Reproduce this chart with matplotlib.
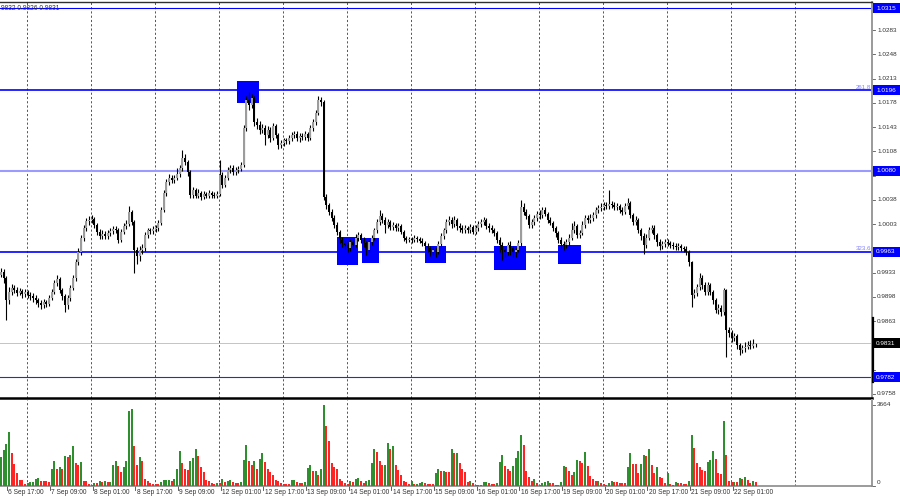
import matplotlib
matplotlib.use('Agg')
import matplotlib.pyplot as plt
from matplotlib.patches import Rectangle
from matplotlib.lines import Line2D
from matplotlib.transforms import blended_transform_factory

plt.rcParams['font.family'] = ['Liberation Sans', 'DejaVu Sans']

# ---------------- data (H1 bars) ----------------
first_open = 0.9930
closes = [
    0.9934, 0.9925, 0.9893, 0.9905, 0.9911, 0.9908, 0.9904, 0.9906, 0.9902, 0.9905,
    0.9901, 0.9899, 0.9896, 0.9893, 0.9889, 0.9886, 0.9891, 0.9888, 0.9896, 0.9905,
    0.9918, 0.9924, 0.9908, 0.9899, 0.9886, 0.9896, 0.9911, 0.9925, 0.9948, 0.9963,
    0.9983, 0.9997, 1.0007, 1.0009, 1.0010, 1.0002, 0.9992, 0.9986, 0.9989, 0.9986,
    0.9990, 0.9993, 0.9996, 0.9994, 0.9980, 0.9992, 1.0000, 1.0003, 1.0021, 1.0006,
    0.9966, 0.9957, 0.9966, 0.9968, 0.9987, 0.9994, 0.9993, 0.9996, 0.9997, 1.0005,
    1.0023, 1.0048, 1.0064, 1.0070, 1.0067, 1.0070, 1.0075, 1.0084, 1.0099, 1.0093,
    1.0078, 1.0045, 1.0052, 1.0044, 1.0048, 1.0042, 1.0047, 1.0044, 1.0048, 1.0045,
    1.0044, 1.0047, 1.0074, 1.0060, 1.0070, 1.0081, 1.0084, 1.0078, 1.0081, 1.0083,
    1.0088, 1.0142, 1.0182, 1.0175, 1.0185, 1.0150, 1.0146, 1.0139, 1.0142, 1.0132,
    1.0139, 1.0127, 1.0145, 1.0132, 1.0117, 1.0120, 1.0124, 1.0123, 1.0127, 1.0132,
    1.0133, 1.0127, 1.0130, 1.0129, 1.0133, 1.0127, 1.0142, 1.0150, 1.0163, 1.0182,
    1.0179, 1.0042, 1.0031, 1.0021, 1.0012, 1.0002, 0.9992, 0.9980, 0.9976, 0.9973,
    0.9968, 0.9977, 0.9973, 0.9983, 0.9987, 0.9980, 0.9976, 0.9966, 0.9977, 0.9983,
    0.9994, 1.0006, 1.0015, 1.0009, 1.0002, 1.0006, 0.9999, 1.0002, 0.9997, 1.0000,
    0.9992, 0.9983, 0.9980, 0.9981, 0.9980, 0.9983, 0.9981, 0.9979, 0.9976, 0.9971,
    0.9968, 0.9963, 0.9966, 0.9963, 0.9974, 0.9986, 0.9994, 1.0006, 1.0009, 1.0003,
    1.0009, 1.0000, 0.9997, 0.9994, 0.9997, 0.9994, 0.9999, 0.9992, 0.9997, 1.0003,
    1.0006, 1.0009, 1.0000, 0.9997, 0.9994, 0.9990, 0.9980, 0.9973, 0.9966, 0.9963,
    0.9973, 0.9968, 0.9963, 0.9966, 0.9976, 1.0028, 1.0021, 1.0015, 1.0002, 1.0006,
    1.0012, 1.0018, 1.0016, 1.0023, 1.0018, 1.0009, 1.0005, 0.9997, 0.9990, 0.9980,
    0.9974, 0.9973, 0.9977, 0.9983, 0.9994, 1.0000, 0.9987, 0.9990, 1.0002, 1.0012,
    1.0009, 1.0012, 1.0016, 1.0023, 1.0026, 1.0028, 1.0031, 1.0029, 1.0032, 1.0031,
    1.0028, 1.0029, 1.0023, 1.0021, 1.0029, 1.0034, 1.0016, 1.0006, 1.0009, 0.9994,
    0.9986, 0.9973, 0.9983, 0.9994, 0.9997, 0.9987, 0.9977, 0.9971, 0.9974, 0.9977,
    0.9976, 0.9973, 0.9971, 0.9970, 0.9971, 0.9968, 0.9967, 0.9963, 0.9948, 0.9901,
    0.9904, 0.9912, 0.9925, 0.9915, 0.9905, 0.9915, 0.9905, 0.9893, 0.9879, 0.9882,
    0.9876, 0.9908, 0.9850, 0.9846, 0.9839, 0.9841, 0.9828, 0.9821, 0.9824, 0.9826,
    0.9828, 0.9827, 0.9830, 0.9831]

highs = [
    0.9940, 0.9938, 0.9928, 0.9912, 0.9916, 0.9915, 0.9912, 0.9911, 0.9910, 0.9909,
    0.9908, 0.9905, 0.9903, 0.9900, 0.9897, 0.9893, 0.9895, 0.9894, 0.9900, 0.9910,
    0.9922, 0.9930, 0.9927, 0.9911, 0.9902, 0.9900, 0.9915, 0.9929, 0.9952, 0.9968,
    0.9987, 1.0002, 1.0012, 1.0014, 1.0016, 1.0013, 1.0005, 0.9996, 0.9994, 0.9993,
    0.9994, 0.9997, 1.0000, 1.0000, 0.9997, 0.9996, 1.0004, 1.0009, 1.0029, 1.0024,
    1.0009, 0.9970, 0.9971, 0.9974, 0.9991, 0.9998, 0.9998, 1.0000, 1.0001, 1.0009,
    1.0027, 1.0052, 1.0068, 1.0075, 1.0074, 1.0074, 1.0084, 1.0088, 1.0110, 1.0104,
    1.0096, 1.0081, 1.0057, 1.0055, 1.0053, 1.0051, 1.0051, 1.0050, 1.0052, 1.0051,
    1.0049, 1.0051, 1.0096, 1.0078, 1.0074, 1.0086, 1.0089, 1.0088, 1.0085, 1.0087,
    1.0092, 1.0146, 1.0188, 1.0194, 1.0191, 1.0188, 1.0156, 1.0152, 1.0148, 1.0146,
    1.0144, 1.0143, 1.0149, 1.0148, 1.0135, 1.0125, 1.0128, 1.0128, 1.0131, 1.0136,
    1.0138, 1.0137, 1.0134, 1.0134, 1.0137, 1.0136, 1.0146, 1.0155, 1.0168, 1.0188,
    1.0186, 1.0182, 1.0046, 1.0034, 1.0025, 1.0016, 1.0006, 0.9995, 0.9984, 0.9980,
    0.9977, 0.9981, 0.9981, 0.9988, 0.9991, 0.9990, 0.9984, 0.9979, 0.9981, 0.9987,
    0.9998, 1.0011, 1.0023, 1.0019, 1.0013, 1.0010, 1.0009, 1.0006, 1.0005, 1.0004,
    1.0003, 0.9995, 0.9986, 0.9985, 0.9984, 0.9987, 0.9986, 0.9985, 0.9983, 0.9979,
    0.9975, 0.9972, 0.9970, 0.9970, 0.9978, 0.9990, 0.9998, 1.0011, 1.0015, 1.0013,
    1.0014, 1.0012, 1.0004, 1.0001, 1.0001, 1.0000, 1.0003, 1.0002, 1.0001, 1.0007,
    1.0010, 1.0013, 1.0012, 1.0004, 1.0001, 0.9998, 0.9993, 0.9984, 0.9977, 0.9970,
    0.9977, 0.9978, 0.9972, 0.9970, 0.9980, 1.0038, 1.0033, 1.0025, 1.0018, 1.0011,
    1.0016, 1.0022, 1.0023, 1.0028, 1.0027, 1.0021, 1.0013, 1.0008, 1.0000, 0.9993,
    0.9984, 0.9978, 0.9982, 0.9988, 1.0004, 1.0008, 1.0003, 0.9995, 1.0007, 1.0016,
    1.0016, 1.0017, 1.0020, 1.0027, 1.0031, 1.0033, 1.0035, 1.0035, 1.0052, 1.0037,
    1.0035, 1.0034, 1.0032, 1.0027, 1.0033, 1.0040, 1.0037, 1.0019, 1.0014, 1.0012,
    0.9998, 0.9990, 0.9988, 0.9999, 1.0002, 1.0001, 0.9990, 0.9981, 0.9979, 0.9982,
    0.9981, 0.9979, 0.9977, 0.9975, 0.9976, 0.9974, 0.9972, 0.9971, 0.9966, 0.9950,
    0.9910, 0.9917, 0.9932, 0.9929, 0.9919, 0.9920, 0.9918, 0.9908, 0.9896, 0.9887,
    0.9886, 0.9911, 0.9910, 0.9855, 0.9850, 0.9846, 0.9844, 0.9832, 0.9829, 0.9833,
    0.9834, 0.9836, 0.9837, 0.9832]

lows = [
    0.9926, 0.9918, 0.9865, 0.9888, 0.9900, 0.9903, 0.9899, 0.9900, 0.9897, 0.9898,
    0.9896, 0.9894, 0.9891, 0.9888, 0.9883, 0.9880, 0.9882, 0.9883, 0.9885, 0.9893,
    0.9902, 0.9914, 0.9904, 0.9894, 0.9876, 0.9881, 0.9892, 0.9908, 0.9921, 0.9944,
    0.9959, 0.9979, 0.9993, 1.0002, 1.0004, 0.9998, 0.9987, 0.9981, 0.9982, 0.9981,
    0.9982, 0.9986, 0.9989, 0.9990, 0.9975, 0.9977, 0.9988, 0.9996, 1.0000, 1.0002,
    0.9932, 0.9945, 0.9950, 0.9960, 0.9964, 0.9983, 0.9989, 0.9989, 0.9992, 0.9993,
    1.0001, 1.0020, 1.0044, 1.0060, 1.0062, 1.0063, 1.0066, 1.0071, 1.0080, 1.0088,
    1.0073, 1.0040, 1.0041, 1.0040, 1.0040, 1.0038, 1.0039, 1.0040, 1.0041, 1.0041,
    1.0040, 1.0041, 1.0044, 1.0055, 1.0056, 1.0066, 1.0077, 1.0074, 1.0074, 1.0077,
    1.0079, 1.0085, 1.0138, 1.0168, 1.0170, 1.0145, 1.0140, 1.0133, 1.0134, 1.0117,
    1.0128, 1.0122, 1.0124, 1.0128, 1.0112, 1.0113, 1.0116, 1.0119, 1.0119, 1.0123,
    1.0128, 1.0123, 1.0122, 1.0125, 1.0125, 1.0123, 1.0124, 1.0138, 1.0146, 1.0160,
    1.0174, 1.0038, 1.0025, 1.0016, 1.0007, 0.9997, 0.9987, 0.9975, 0.9970, 0.9967,
    0.9962, 0.9964, 0.9966, 0.9970, 0.9979, 0.9975, 0.9970, 0.9958, 0.9962, 0.9973,
    0.9980, 0.9990, 1.0002, 1.0004, 0.9990, 0.9998, 0.9994, 0.9995, 0.9993, 0.9993,
    0.9988, 0.9979, 0.9976, 0.9977, 0.9976, 0.9977, 0.9977, 0.9975, 0.9972, 0.9967,
    0.9963, 0.9957, 0.9958, 0.9955, 0.9960, 0.9970, 0.9982, 0.9990, 1.0002, 0.9998,
    0.9999, 0.9995, 0.9992, 0.9990, 0.9990, 0.9990, 0.9990, 0.9988, 0.9988, 0.9993,
    0.9999, 1.0002, 0.9996, 0.9992, 0.9990, 0.9986, 0.9975, 0.9962, 0.9951, 0.9956,
    0.9959, 0.9958, 0.9955, 0.9956, 0.9962, 0.9972, 1.0016, 1.0010, 0.9997, 0.9998,
    1.0002, 1.0008, 1.0011, 1.0012, 1.0014, 1.0005, 1.0001, 0.9993, 0.9985, 0.9975,
    0.9968, 0.9965, 0.9968, 0.9972, 0.9980, 0.9990, 0.9983, 0.9983, 0.9987, 0.9998,
    1.0005, 1.0005, 1.0008, 1.0012, 1.0019, 1.0022, 1.0024, 1.0025, 1.0025, 1.0026,
    1.0023, 1.0024, 1.0019, 1.0016, 1.0017, 1.0025, 1.0012, 1.0001, 1.0002, 0.9990,
    0.9980, 0.9960, 0.9969, 0.9980, 0.9990, 0.9982, 0.9972, 0.9966, 0.9967, 0.9970,
    0.9972, 0.9969, 0.9967, 0.9966, 0.9966, 0.9964, 0.9962, 0.9958, 0.9943, 0.9883,
    0.9896, 0.9899, 0.9908, 0.9910, 0.9900, 0.9901, 0.9900, 0.9888, 0.9874, 0.9873,
    0.9870, 0.9872, 0.9811, 0.9840, 0.9833, 0.9834, 0.9822, 0.9814, 0.9817, 0.9819,
    0.9822, 0.9823, 0.9824, 0.9826]

volumes = [
    1297, 1628, 1900, 2443, 1508, 995, 603, 271, 260, 90,
    150, 160, 170, 332, 340, 241, 230, 211, 181, 784,
    1116, 784, 875, 784, 1357, 1297, 1380, 1809, 1055, 965,
    1086, 241, 211, 90, 60, 150, 140, 241, 181, 241,
    181, 190, 935, 1116, 905, 633, 875, 1146, 3377, 3468,
    1809, 965, 1297, 1116, 332, 241, 150, 90, 80, 70,
    200, 250, 260, 270, 240, 300, 784, 1598, 1055, 754,
    740, 1116, 1267, 1689, 1357, 875, 633, 271, 211, 150,
    90, 150, 120, 332, 181, 241, 250, 181, 150, 140,
    181, 1176, 1870, 1116, 965, 1116, 784, 1236, 1478, 1086,
    784, 633, 482, 271, 211, 150, 90, 80, 70, 271,
    280, 181, 150, 140, 181, 814, 965, 663, 694, 513,
    754, 3664, 2714, 2020, 1025, 844, 754, 301, 211, 150,
    90, 211, 200, 332, 340, 211, 150, 241, 271, 1025,
    1659, 1538, 1146, 935, 960, 1930, 1659, 1809, 935, 724,
    482, 211, 181, 90, 211, 100, 110, 150, 160, 120,
    110, 90, 80, 573, 784, 663, 680, 640, 630, 1659,
    1478, 1490, 1055, 754, 633, 181, 211, 150, 60, 50,
    40, 181, 190, 120, 110, 90, 150, 1086, 1417, 905,
    754, 663, 905, 1267, 1568, 2292, 1840, 694, 422, 211,
    301, 120, 60, 150, 181, 211, 150, 140, 60, 50,
    181, 905, 875, 694, 513, 633, 1176, 1146, 1055, 1538,
    905, 452, 332, 211, 241, 150, 90, 60, 120, 241,
    181, 170, 150, 140, 130, 844, 1508, 995, 980, 603,
    995, 1387, 1357, 1659, 965, 603, 875, 392, 362, 150,
    573, 90, 60, 181, 120, 115, 110, 105, 241, 2292,
    1719, 1055, 875, 724, 700, 1086, 1176, 1568, 1236, 573,
    540, 2925, 1387, 211, 181, 190, 181, 362, 301, 422,
    271, 150, 241, 181]

date_labels = ['6 Sep 17:00', '7 Sep 09:00', '8 Sep 01:00', '8 Sep 17:00',
               '9 Sep 09:00', '12 Sep 01:00', '12 Sep 17:00', '13 Sep 09:00',
               '14 Sep 01:00', '14 Sep 17:00', '15 Sep 09:00', '16 Sep 01:00',
               '16 Sep 17:00', '19 Sep 09:00', '20 Sep 01:00', '20 Sep 17:00',
               '21 Sep 09:00', '22 Sep 01:00']
price_ticks = [1.0318, 1.0283, 1.0248, 1.0213, 1.0178, 1.0143, 1.0108, 1.0073,
               1.0038, 1.0003, 0.9968, 0.9933, 0.9898, 0.9863, 0.9828, 0.9793,
               0.9758]
level_prices = [1.0315, 1.0196, 1.0080, 0.9963, 0.9782]
level_colors = ['#0000ff', '#0000ff', '#9a9aff', '#0000ff', '#2a2ad0']
level_widths = [0.8, 1.2, 1.5, 1.2, 0.8]
fib_texts = [('261.8', 1.0196), ('323.6', 0.9963)]
current_price = 0.9831
volume_max_label = 3664
header_text = '9832 0.9826 0.9831'
# marked zones: (first bar, last bar, upper price, lower price)
zones = [(88.5, 96.7, 1.0210, 1.0178),
         (126.0, 133.9, 0.9984, 0.9944),
         (135.4, 141.7, 0.9983, 0.9947),
         (159.0, 166.9, 0.9971, 0.9947),
         (184.9, 196.9, 0.9971, 0.9937),
         (208.9, 217.5, 0.9973, 0.9945)]

# ---------------- layout ----------------
W, H = 900, 500
PLOT_R = 872           # px, right edge of chart area
BAR_PX = 2.6667        # px per bar
fig = plt.figure(figsize=(9, 5), dpi=100)
fig.patch.set_facecolor('white')
axp = fig.add_axes([0, 102 / H, PLOT_R / W, 396 / H])
axv = fig.add_axes([0, 14 / H, PLOT_R / W, 86 / H])

xlim = (-1 / BAR_PX, (PLOT_R - 1) / BAR_PX)
ytop, ybot = 1.03237, 0.97519
px_price = (ytop - ybot) / 396.0
for ax in (axp, axv):
    ax.set_xlim(*xlim)
    ax.set_facecolor('white')
    ax.set_xticks([])
    ax.set_yticks([])
axp.set_ylim(ybot, ytop)
vtop = volume_max_label * 86 / 81
axv.set_ylim(0, vtop)

# spines
axp.spines['left'].set_visible(False)
axv.spines['left'].set_visible(False)
axp.spines['top'].set_color('#303030'); axp.spines['top'].set_linewidth(1.0)
axp.spines['right'].set_color('#9a9a9a'); axp.spines['right'].set_linewidth(1.4)
axp.spines['bottom'].set_color('#000000'); axp.spines['bottom'].set_linewidth(1.8)
axv.spines['top'].set_visible(False)
axv.spines['right'].set_color('#9a9a9a'); axv.spines['right'].set_linewidth(1.4)
axv.spines['bottom'].set_color('#8a8a8a'); axv.spines['bottom'].set_linewidth(1.2)

# vertical grid
grid_first = (27.3 - 1) / BAR_PX
grid_pos = [grid_first + 24 * k for k in range(13)]
for ax in (axp, axv):
    for g in grid_pos:
        ax.axvline(g, color='#555555', lw=0.7, ls=(0, (2.2, 2.2)), zorder=1)

n = len(closes)
xs = list(range(n))
opens = [first_open] + closes[:-1]

# zones
for (a, b, top, bot) in zones:
    axp.add_patch(Rectangle((a, bot), b - a, top - bot, fc='#0000ff', ec='none', zorder=2))

# levels
for lvl, col, lw in zip(level_prices, level_colors, level_widths):
    axp.axhline(lvl, color=col, lw=lw, zorder=2.5)
axp.axhline(current_price, color='#c4c4c4', lw=0.7, zorder=2.4)

# candles
axp.vlines(xs, lows, highs, color='black', lw=0.8, zorder=3)
bottoms = [min(o, c) for o, c in zip(opens, closes)]
heights = [max(abs(c - o), px_price) for o, c in zip(opens, closes)]
cols = ['#9c9c9c' if c > o else '#000000' for o, c in zip(opens, closes)]
axp.bar(xs, heights, bottom=bottoms, width=0.85, color=cols, linewidth=0, zorder=4)

# fib texts
trp = blended_transform_factory(axp.transAxes, axp.transData)
for t, p in fib_texts:
    axp.text(871 / PLOT_R, p + 0.4 * px_price, t, transform=trp, color='#8080ff',
             fontsize=4.4, ha='right', va='bottom', zorder=6)

# price scale ticks & labels (labels covered by a price box are not shown)
box_prices = level_prices + [current_price]
for p in price_ticks:
    axp.add_line(Line2D([1.0, 1.0 + 3 / PLOT_R], [p, p], transform=trp, color='#555555',
                        lw=0.6, clip_on=False))
    if min(abs(p - b) for b in box_prices) < 8 * px_price:
        continue
    axp.text(1.0 + 5 / PLOT_R, p, f'{p:.4f}', transform=trp, fontsize=4.6, color='#333333',
             ha='left', va='center', clip_on=False)

# price boxes
for lvl in level_prices:
    axp.add_patch(Rectangle((1.0 + 1 / PLOT_R, lvl - 5 * px_price), 27 / PLOT_R, 10 * px_price,
                            transform=trp, fc='#0000ff', ec='none', clip_on=False, zorder=7))
    axp.text(1.0 + 4 / PLOT_R, lvl, f'{lvl:.4f}', transform=trp, fontsize=4.6, color='white',
             ha='left', va='center', clip_on=False, zorder=8)
axp.add_patch(Rectangle((1.0 + 1 / PLOT_R, current_price - 5 * px_price), 27 / PLOT_R, 10 * px_price,
                        transform=trp, fc='#000000', ec='none', clip_on=False, zorder=7))
axp.text(1.0 + 4 / PLOT_R, current_price, f'{current_price:.4f}', transform=trp, fontsize=4.6,
         color='white', ha='left', va='center', clip_on=False, zorder=8)
# dark marker on the price scale
axp.add_line(Line2D([1.0 + 1 / PLOT_R, 1.0 + 1 / PLOT_R], [ybot + 16 * px_price, ybot + 80 * px_price],
                    transform=trp, color='black', lw=1.6, clip_on=False, zorder=6))

# header
axp.text(1 / PLOT_R, 1 - 6 / 396, header_text, transform=axp.transAxes, fontsize=4.8,
         color='#333333', ha='left', va='center')

# volumes
vcols = ['#2e8f2e' if (i == 0 or volumes[i] > volumes[i - 1]) else '#ff2424' for i in range(n)]
axv.bar(xs, volumes, width=0.8, color=vcols, linewidth=0, zorder=3)
trv = blended_transform_factory(axv.transAxes, axv.transData)
for v, lab in ((volume_max_label, str(volume_max_label)), (0, '0')):
    axv.add_line(Line2D([1.0, 1.0 + 3 / PLOT_R], [v, v], transform=trv, color='#555555',
                        lw=0.6, clip_on=False))
    axv.text(1.0 + 5 / PLOT_R, v + (vtop / 86 * 3 if v == 0 else 0), lab, transform=trv,
             fontsize=4.6, color='#333333', ha='left', va='center', clip_on=False)

# date labels
label_first = (7.3 - 1) / BAR_PX
trd = blended_transform_factory(axv.transData, axv.transAxes)
for k, lab in enumerate(date_labels):
    xpos = label_first + 16 * k
    axv.add_line(Line2D([xpos, xpos], [0, -4 / 86], transform=trd, color='#444444', lw=0.6,
                        clip_on=False))
    axv.text(xpos + 1.2 / BAR_PX, -6 / 86, lab, transform=trd, fontsize=4.8, color='#333333',
             ha='left', va='center', clip_on=False)

fig.savefig('out.png', dpi=100, facecolor='white')
